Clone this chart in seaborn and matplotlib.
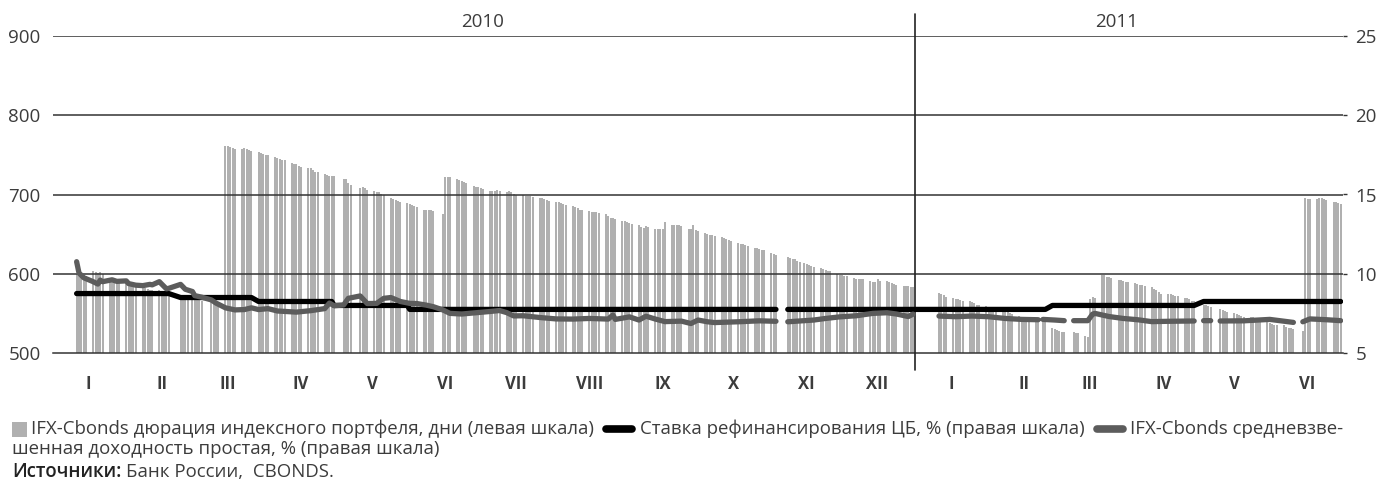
import numpy as np
import pandas as pd
import seaborn as sns
import matplotlib.pyplot as plt
import matplotlib.dates as mdates
from matplotlib import font_manager
from matplotlib.lines import Line2D
from matplotlib.patches import Rectangle

# IFX-Cbonds index portfolio duration, days (left scale) - one value per trading day
dur_2010_01 = [600, 599, 598, 598, 597, 603, 602, 601, 602, 600, 593, 592, 591, 590, 589]
dur_2010_02 = [588, 587, 586, 585, 584, 583, 582, 581, 580, 580, 579, 578, 577, 576, 575,
               573, 572, 571, 571]
dur_2010_03 = [570, 569, 568, 567, 566, 565, 564, 563, 562, 761, 761, 760, 759, 758,
               757, 759, 758, 756, 755, 753, 752, 751]
dur_2010_04 = [750, 750, 747, 746, 745, 744, 743, 740, 739, 738, 736, 735,
               734, 733, 731, 729, 728, 726, 725, 723, 723, 723]
dur_2010_05 = [720, 720, 714, 712, 708, 709, 708, 706, 704, 703, 703, 701, 700,
               695, 694, 693, 692, 690, 689]
dur_2010_06 = [688, 687, 686, 684, 681, 680, 680, 680, 679, 676, 722, 722, 722,
               719, 718, 717, 716, 715, 711, 710, 709]
dur_2010_07 = [708, 707, 705, 704, 705, 706, 704, 703, 704, 703, 701, 700,
               699, 698, 698, 698, 697, 696, 695, 694, 693, 692]
dur_2010_08 = [691, 690, 689, 688, 687, 685, 684, 683, 681, 680, 679, 678, 678, 678, 677,
               675, 673, 670, 670, 669, 666, 666]
dur_2010_09 = [665, 664, 663, 661, 659, 658, 660, 659, 657, 656, 656, 656, 665,
               662, 662, 661, 661, 660, 657, 657, 661, 655]
dur_2010_10 = [654, 651, 650, 649, 649, 648, 646, 645, 644, 643, 641,
               639, 638, 637, 636, 635, 633, 632, 631, 630, 630]
dur_2010_11 = [626, 625, 624, 621, 620, 619, 618, 616, 615, 613, 612, 611, 610, 609,
               607, 606, 605, 604, 603, 600, 599]
dur_2010_12 = [598, 597, 597, 595, 594, 594, 593, 593, 591, 590, 589, 593, 591,
               591, 590, 588, 587, 586, 585, 584, 584, 583, 583]
dur_2011_01 = [576, 575, 573, 571, 569, 568, 568, 567, 566, 565, 564, 563, 561, 560, 559]
dur_2011_02 = [558, 557, 556, 556, 554, 553, 552, 551, 549, 547, 546, 545, 544, 543,
               542, 541, 540, 539, 531]
dur_2011_03 = [530, 529, 528, 527, 526, 526, 525, 525, 522, 520, 568, 571, 570,
               599, 598, 596, 596, 595, 592, 592, 591, 590]
dur_2011_04 = [589, 588, 587, 586, 586, 585, 583, 581, 579, 577, 575,
               574, 574, 573, 572, 572, 570, 569, 568, 566, 565]
dur_2011_05 = [561, 560, 559, 558, 556, 554, 553, 552, 550, 549, 548, 547, 546,
               546, 545, 543, 542, 541, 539, 538]
dur_2011_06 = [536, 535, 535, 535, 533, 532, 531, 530, 528, 695, 694, 694,
               694, 695, 695, 694, 693, 691, 690, 689, 688]

# exchange calendar: non-working weekdays and working Saturdays
holidays = ['2010-02-22', '2010-02-23', '2010-03-08', '2010-05-03', '2010-05-10',
            '2010-06-14', '2010-11-04', '2010-11-05',
            '2011-01-03', '2011-01-04', '2011-01-05', '2011-01-06', '2011-01-07',
            '2011-01-10', '2011-02-23', '2011-03-07', '2011-03-08', '2011-05-02',
            '2011-05-09', '2011-06-13']
work_saturdays = ['2010-02-27', '2010-11-13', '2011-03-05']

# CBR refinancing rate, % (right scale)
rate_dates = ['2010-01-11', '2010-02-19', '2010-02-24', '2010-03-26', '2010-03-29',
              '2010-04-29', '2010-04-30', '2010-05-31', '2010-06-01', '2010-11-03',
              '2010-11-05', '2010-11-08', '2011-02-25', '2011-02-28', '2011-04-29',
              '2011-05-03', '2011-06-30']
rate_vals = [8.75, 8.75, 8.5, 8.5, 8.25, 8.25, 8.0, 8.0, 7.75, 7.75,
             np.nan, 7.75, 7.75, 8.0, 8.0, 8.25, 8.25]

# IFX-Cbonds weighted average simple yield, % (right scale)
yield_dates = ['2010-01-11', '2010-01-12', '2010-01-14', '2010-01-18', '2010-01-20',
               '2010-01-21', '2010-01-22', '2010-01-26', '2010-01-28', '2010-02-01',
               '2010-02-02', '2010-02-05', '2010-02-08', '2010-02-11', '2010-02-12',
               '2010-02-15', '2010-02-18', '2010-02-19', '2010-02-24', '2010-02-26',
               '2010-03-01', '2010-03-02', '2010-03-05', '2010-03-09', '2010-03-11',
               '2010-03-15', '2010-03-19', '2010-03-23', '2010-03-26', '2010-03-29',
               '2010-04-02', '2010-04-06', '2010-04-14', '2010-04-20', '2010-04-26',
               '2010-04-28', '2010-04-30', '2010-05-04', '2010-05-06', '2010-05-11',
               '2010-05-14', '2010-05-18', '2010-05-21', '2010-05-24', '2010-05-28',
               '2010-06-01', '2010-06-04', '2010-06-08', '2010-06-11', '2010-06-15',
               '2010-06-18', '2010-06-23', '2010-06-29', '2010-07-05', '2010-07-09',
               '2010-07-12', '2010-07-15', '2010-07-19', '2010-07-26', '2010-08-02',
               '2010-08-09', '2010-08-16', '2010-08-24', '2010-08-26', '2010-08-27',
               '2010-09-02', '2010-09-06', '2010-09-09', '2010-09-13', '2010-09-17',
               '2010-09-24', '2010-09-28', '2010-10-01', '2010-10-05', '2010-10-08',
               '2010-10-18', '2010-10-27', '2010-11-03', '2010-11-05', '2010-11-08',
               '2010-11-12', '2010-11-19', '2010-11-24', '2010-11-30', '2010-12-07',
               '2010-12-14', '2010-12-20', '2010-12-24', '2010-12-29', '2010-12-31',
               '2011-01-05', '2011-01-11', '2011-01-18', '2011-01-25', '2011-02-01',
               '2011-02-08', '2011-02-15', '2011-02-22', '2011-02-23', '2011-02-24',
               '2011-03-01', '2011-03-05', '2011-03-07', '2011-03-09', '2011-03-15',
               '2011-03-17', '2011-03-18', '2011-03-24', '2011-03-30', '2011-04-05',
               '2011-04-11', '2011-04-18', '2011-04-29', '2011-05-02', '2011-05-03',
               '2011-05-06', '2011-05-09', '2011-05-10', '2011-05-20', '2011-05-31',
               '2011-06-10', '2011-06-13', '2011-06-14', '2011-06-17', '2011-06-24',
               '2011-06-30']
yield_vals = [10.76, 10.05, 9.75, 9.5, 9.35, 9.6, 9.5, 9.62, 9.52, 9.55,
              9.38, 9.28, 9.25, 9.33, 9.3, 9.5, 9.05, 9.08, 9.33, 9.02,
              8.88, 8.62, 8.52, 8.35, 8.15, 7.85, 7.72, 7.74, 7.85, 7.74,
              7.8, 7.65, 7.58, 7.67, 7.8, 8.15, 7.98, 8.03, 8.45, 8.6,
              8.12, 8.13, 8.45, 8.5, 8.25, 8.13, 8.12, 8.02, 7.92, 7.72,
              7.5, 7.46, 7.54, 7.62, 7.68, 7.55, 7.34, 7.35, 7.24, 7.15,
              7.14, 7.18, 7.14, 7.4, 7.12, 7.28, 7.08, 7.32, 7.14, 6.98,
              7.01, 6.86, 7.08, 6.97, 6.92, 6.97, 7.03, 7.0, np.nan, 6.97,
              7.01, 7.08, 7.18, 7.28, 7.35, 7.5, 7.54, 7.46, 7.3, 7.45,
              np.nan, 7.33, 7.29, 7.33, 7.29, 7.18, 7.12, 7.1, np.nan, 7.12,
              7.08, 7.04, np.nan, 7.04, 7.04, 7.45, 7.5, 7.3, 7.18, 7.1,
              6.98, 7.0, 7.02, np.nan, 7.04, 7.04, np.nan, 7.02, 7.03, 7.12,
              6.93, np.nan, 6.97, 7.15, 7.1, 7.04]

month_labels = ['I', 'II', 'III', 'IV', 'V', 'VI', 'VII', 'VIII', 'IX', 'X', 'XI', 'XII',
                'I', 'II', 'III', 'IV', 'V', 'VI']
year_labels = ['2010', '2011']
year_label_dates = ['2010-07-02', '2011-03-27']

label_bars = 'IFX-Cbonds дюрация индексного портфеля, дни (левая шкала)'
label_rate = 'Ставка рефинансирования ЦБ, % (правая шкала)'
label_yield_1 = 'IFX-Cbonds средневзве-'
label_yield_2 = 'шенная доходность простая, % (правая шкала)'

# ---------------------------------------------------------------------------
sns.set_style('white')
names = {f.name for f in font_manager.fontManager.ttflist}
narrow = next((n for n in ['Liberation Sans Narrow', 'DejaVu Sans Condensed', 'Open Sans']
               if n in names), 'DejaVu Sans')
plt.rcParams['font.family'] = ['Open Sans', 'DejaVu Sans']

W, H = 1384, 488
txt = '#3c3c3c'
bar_col = '#b0b0b0'
yield_col = '#5c5c5c'

days = pd.bdate_range('2010-01-11', '2011-06-30', freq='C', holidays=holidays)
days = days.union(pd.DatetimeIndex(work_saturdays))
duration = (dur_2010_01 + dur_2010_02 + dur_2010_03 + dur_2010_04 + dur_2010_05 +
            dur_2010_06 + dur_2010_07 + dur_2010_08 + dur_2010_09 + dur_2010_10 +
            dur_2010_11 + dur_2010_12 + dur_2011_01 + dur_2011_02 + dur_2011_03 +
            dur_2011_04 + dur_2011_05 + dur_2011_06)
assert len(days) == len(duration), (len(days), len(duration))
df = pd.DataFrame({'x': mdates.date2num(days), 'duration': duration})

fig, ax = plt.subplots(figsize=(W / 100, H / 100), dpi=100)
fig.subplots_adjust(left=53 / W, right=1343 / W, bottom=1 - 353 / H, top=1 - 36 / H)

sns.barplot(data=df, x='x', y='duration', native_scale=True, color=bar_col,
            saturation=1, width=0.85, errorbar=None, linewidth=0, ax=ax)

for v in [600, 700, 800, 900]:
    ax.axhline(v, color='#333333', lw=1.1, zorder=3)

ax.set_ylim(500, 900)
ax.set_yticks([500, 600, 700, 800, 900])
ax.set_xlim(mdates.date2num(pd.Timestamp('2010-01-01')),
            mdates.date2num(pd.Timestamp('2011-07-01')))
ax.set_xlabel('')
ax.set_ylabel('')

month_starts = pd.date_range('2010-01-01', '2011-07-01', freq='MS')
month_mids = month_starts[:-1] + pd.Timedelta(days=15)
ax.set_xticks(mdates.date2num(month_starts))
ax.set_xticklabels([])
ax.set_xticks(mdates.date2num(month_mids), minor=True)
ax.set_xticklabels(month_labels, minor=True, fontweight='bold', fontsize=12, color=txt)
ax.tick_params(axis='x', which='major', direction='in', length=7, width=1, color='#333333')
ax.tick_params(axis='x', which='minor', length=0, pad=16)
ax.tick_params(axis='y', length=0, pad=9, labelsize=13.5, labelcolor=txt)
for s in ['left', 'right', 'top']:
    ax.spines[s].set_visible(False)
ax.spines['bottom'].set_color('#333333')
ax.spines['bottom'].set_linewidth(1.1)

# year separator and year captions
ax.axvline(mdates.date2num(pd.Timestamp('2011-01-01')), ymin=-0.054, ymax=1.07,
           clip_on=False, color='#222222', lw=1.2, zorder=5)
for lab, d in zip(year_labels, year_label_dates):
    ax.text(mdates.date2num(pd.Timestamp(d)), 1.044, lab, transform=ax.get_xaxis_transform(),
            ha='center', va='center', fontsize=13.5, color=txt)

ax2 = ax.twinx()
ax2.plot(mdates.date2num(pd.to_datetime(rate_dates)), rate_vals, color='black', lw=3.8,
         solid_capstyle='round', solid_joinstyle='round')
ax2.plot(mdates.date2num(pd.to_datetime(yield_dates)), yield_vals, color=yield_col, lw=3.8,
         solid_capstyle='round', solid_joinstyle='round')
ax2.set_ylim(5, 25)
ax2.set_yticks([5, 10, 15, 20, 25])
ax2.tick_params(axis='y', length=3, width=1, color='#333333', pad=6,
                labelsize=13.5, labelcolor=txt)
for s in ax2.spines.values():
    s.set_visible(False)

# legend, laid out by hand in pixels
r = fig.canvas.get_renderer()
tf = fig.transFigure
fs = 13.4
y1 = 1 - 429 / H
fig.add_artist(Rectangle((12 / W, 1 - 437 / H), 15 / W, 15 / H, transform=tf,
                         color=bar_col, lw=0))
t = fig.text(31 / W, y1, label_bars, va='center', fontsize=fs, color=txt, family=narrow)
x = t.get_window_extent(r).x1
fig.add_artist(Line2D([(x + 12) / W, (x + 38) / W], [y1, y1], transform=tf, color='black',
                      lw=5.5, solid_capstyle='round'))
t = fig.text((x + 46) / W, y1, label_rate, va='center', fontsize=fs, color=txt, family=narrow)
x = t.get_window_extent(r).x1
fig.add_artist(Line2D([(x + 12) / W, (x + 38) / W], [y1, y1], transform=tf, color=yield_col,
                      lw=5.5, solid_capstyle='round'))
fig.text((x + 46) / W, y1, label_yield_1, va='center', fontsize=fs, color=txt, family=narrow)
fig.text(12 / W, 1 - 449 / H, label_yield_2, va='center', fontsize=fs, color=txt, family=narrow)
t = fig.text(12 / W, 1 - 472 / H, 'Источники:', va='center', fontsize=fs, color='#222222',
             family=narrow, fontweight='semibold')
x = t.get_window_extent(r).x1
fig.text((x + 5) / W, 1 - 472 / H, 'Банк России,  CBONDS.', va='center', fontsize=fs,
         color=txt, family=narrow)

fig.savefig('out.png', dpi=100)
